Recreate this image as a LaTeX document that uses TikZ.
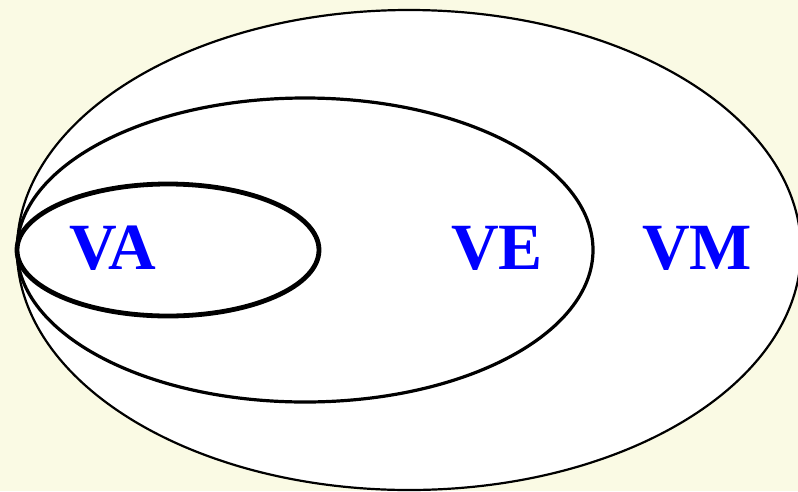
\documentclass[tikz,border=0pt]{standalone}
\usepackage{fontspec}
\setmainfont{Liberation Serif}
\definecolor{bgcream}{RGB}{250,250,228}
\definecolor{lblblue}{RGB}{0,0,255}
\begin{document}
\begin{tikzpicture}[x=1pt,y=-1pt,
  lbl/.style={text=lblblue,font=\fontsize{66}{66}\selectfont\bfseries,inner sep=0pt,anchor=base}]
\fill[bgcream] (0,0) rectangle (798,491);
\useasboundingbox (0,0) rectangle (798,491);
\begin{scope}
\clip (0,0) rectangle (798,491);
\draw[fill=white,line width=2.2pt] (409,250) ellipse [x radius=392, y radius=240];
\end{scope}
\draw[line width=3.2pt] (305,250) ellipse [x radius=288, y radius=152];
\draw[line width=4.8pt] (168,250) ellipse [x radius=151, y radius=66];
\node[lbl] (va) at (113,269) {VA};
\node[lbl] (ve) at (497,269) {VE};
\node[lbl] (vm) at (697,269) {VM};
\end{tikzpicture}
\end{document}
